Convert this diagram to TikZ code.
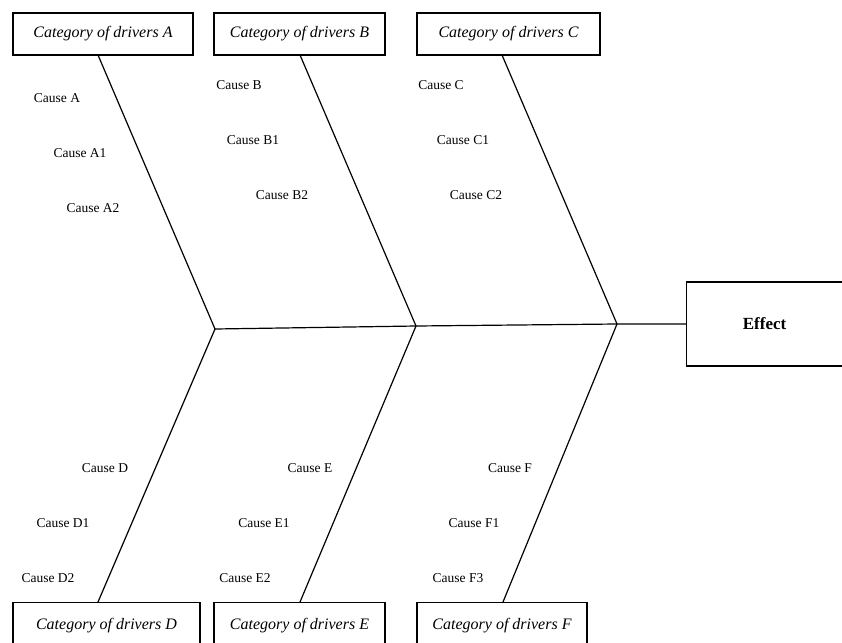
\documentclass[tikz,border=0pt]{standalone}
\usepackage{fontspec}
\setmainfont{Liberation Serif}
\begin{document}
\begin{tikzpicture}[x=1pt,y=-1pt,
  catbox/.style={draw,line width=1.2pt,minimum height=42pt,inner sep=0pt,font=\fontsize{16}{19}\selectfont\itshape},
  cause/.style={font=\fontsize{13.5}{16}\selectfont,inner sep=0pt},
  bone/.style={line width=1.2pt}]
\useasboundingbox (0,0) rectangle (842,642);
\clip (0,0) rectangle (842,642);
% top category boxes
\node[catbox,minimum width=180pt] (A) at (103,34) {Category of drivers A};
\node[catbox,minimum width=171pt] (B) at (299.5,34) {Category of drivers B};
\node[catbox,minimum width=183pt] (C) at (508.5,34) {Category of drivers C};
% bottom category boxes
\node[catbox,minimum width=187pt,minimum height=50pt,anchor=north] (D) at (106.5,602) {\raisebox{7pt}{Category of drivers D}};
\node[catbox,minimum width=171pt,minimum height=50pt,anchor=north] (E) at (299.5,602) {\raisebox{7pt}{Category of drivers E}};
\node[catbox,minimum width=170pt,minimum height=50pt,anchor=north] (F) at (502,602) {\raisebox{7pt}{Category of drivers F}};
% effect box
\node[draw,line width=1.2pt,minimum width=170pt,minimum height=84pt,anchor=west,
      font=\fontsize{17}{20}\selectfont\bfseries] (eff) at (686,324) {\hspace*{-14pt}Effect};
% spine junctions
\coordinate (j1) at (215,329);
\coordinate (j2) at (416,326);
\coordinate (j3) at (617,324);
\coordinate (ta) at (98,55);
\coordinate (tb) at (300,55);
\coordinate (tc) at (502,55);
\coordinate (bd) at (98,602);
\coordinate (be) at (300,602);
\coordinate (bf) at (503,602);
\draw[bone] (j1) -- (j2) -- (j3) -- (eff.west);
\draw[bone] (ta) -- (j1) -- (bd);
\draw[bone] (tb) -- (j2) -- (be);
\draw[bone] (tc) -- (j3) -- (bf);
% causes
\node[cause] (ca) at (57,98) {Cause A};
\node[cause] (ca1) at (80,153) {Cause A1};
\node[cause] (ca2) at (93,208) {Cause A2};
\node[cause] (cb) at (239,85) {Cause B};
\node[cause] (cb1) at (253,140) {Cause B1};
\node[cause] (cb2) at (282,195) {Cause B2};
\node[cause] (cc) at (441,85) {Cause C};
\node[cause] (cc1) at (463,140) {Cause C1};
\node[cause] (cc2) at (476,195) {Cause C2};
\node[cause] (cd) at (105,468) {Cause D};
\node[cause] (cd1) at (63,523) {Cause D1};
\node[cause] (cd2) at (48,578) {Cause D2};
\node[cause] (ce) at (310,468) {Cause E};
\node[cause] (ce1) at (264,523) {Cause E1};
\node[cause] (ce2) at (245,578) {Cause E2};
\node[cause] (cf) at (510,468) {Cause F};
\node[cause] (cf1) at (474,523) {Cause F1};
\node[cause] (cf3) at (458,578) {Cause F3};
\end{tikzpicture}
\end{document}
